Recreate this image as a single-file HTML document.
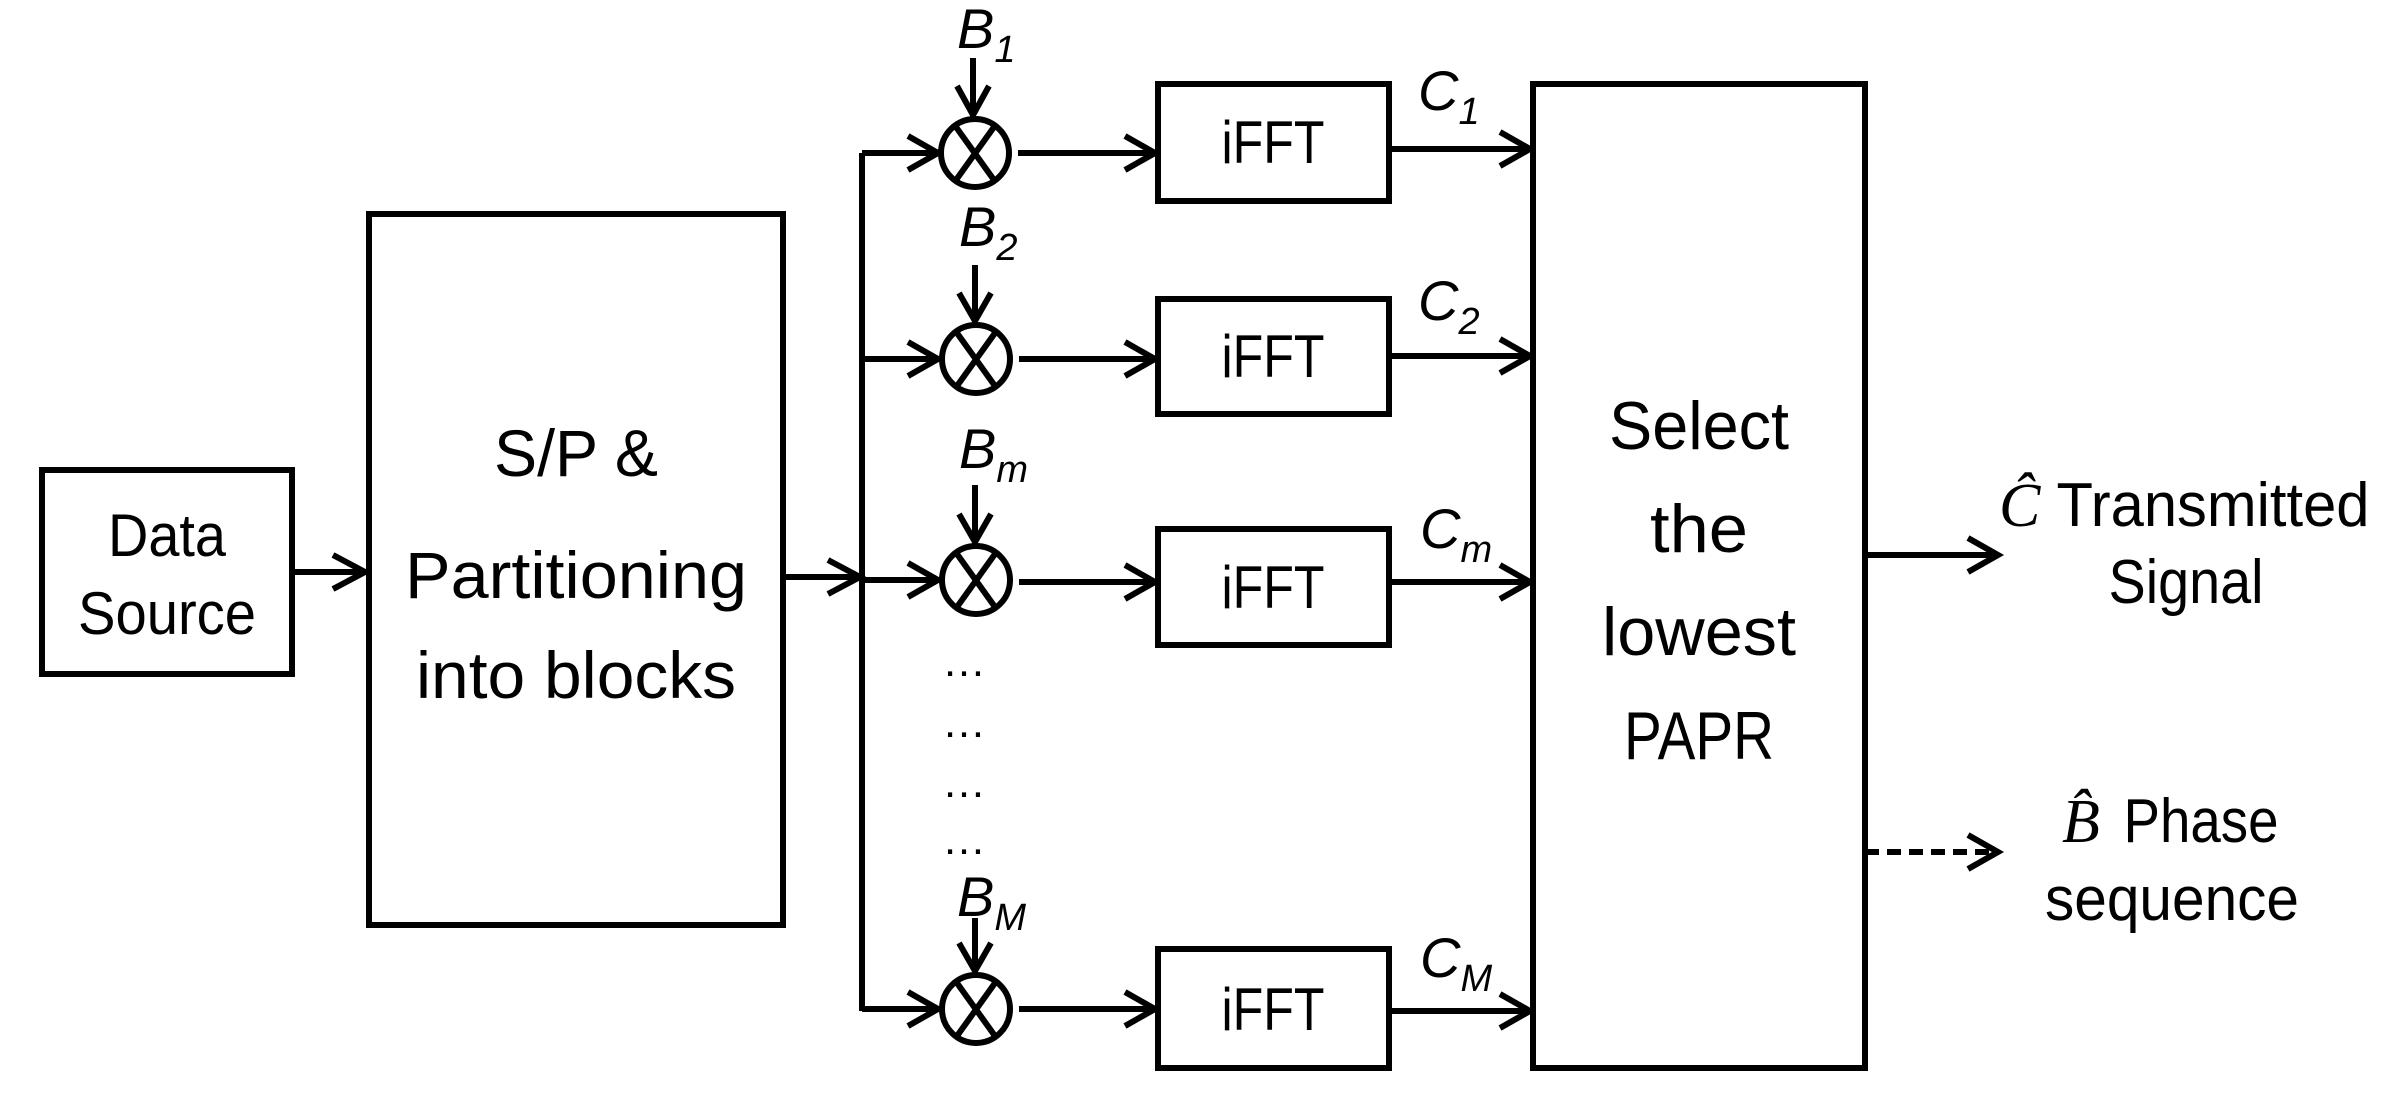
<!DOCTYPE html>
<html><head><meta charset="utf-8"><style>
html,body{margin:0;padding:0;background:#fff;}
svg{display:block;}
text{font-family:"Liberation Sans",sans-serif;fill:#000;}
.i{font-style:italic;}
</style></head><body>
<svg width="2392" height="1116" viewBox="0 0 2392 1116" xmlns="http://www.w3.org/2000/svg">
<g fill="none" stroke="#000" stroke-width="6">
<rect x="42" y="470" width="250" height="204"/>
<rect x="369" y="214" width="414" height="711"/>
<rect x="1158" y="84" width="231" height="117"/>
<rect x="1158" y="299" width="231" height="115"/>
<rect x="1158" y="529" width="231" height="116"/>
<rect x="1158" y="949" width="231" height="119"/>
<rect x="1533" y="84" width="332" height="984"/>
<line x1="292" y1="572" x2="365" y2="572"/><polyline points="333,555 365,572 333,589"/>
<line x1="783" y1="577" x2="860" y2="577"/><polyline points="828,560 860,577 828,594"/>
<line x1="862" y1="153" x2="862" y2="1011"/>
</g>
<g fill="none" stroke="#000" stroke-width="6">
<line x1="862" y1="153" x2="938" y2="153"/><polyline points="908,136 938,153 908,170"/>
<circle cx="975" cy="153" r="34"/><line x1="956" y1="127" x2="994" y2="180"/><line x1="994" y1="127" x2="956" y2="180"/>
<line x1="1018" y1="153" x2="1155" y2="153"/><polyline points="1125,136 1155,153 1125,170"/>
<line x1="973" y1="58" x2="973" y2="115"/><polyline points="957,86 973,115 989,86"/>
<line x1="1389" y1="149" x2="1530" y2="149"/><polyline points="1500,132 1530,149 1500,166"/>
<line x1="862" y1="359" x2="938" y2="359"/><polyline points="908,342 938,359 908,376"/>
<circle cx="976" cy="359" r="34"/><line x1="957" y1="333" x2="995" y2="386"/><line x1="995" y1="333" x2="957" y2="386"/>
<line x1="1019" y1="359" x2="1155" y2="359"/><polyline points="1125,342 1155,359 1125,376"/>
<line x1="975" y1="265" x2="975" y2="321"/><polyline points="959,293 975,321 991,293"/>
<line x1="1389" y1="356" x2="1530" y2="356"/><polyline points="1500,339 1530,356 1500,373"/>
<line x1="862" y1="580" x2="938" y2="580"/><polyline points="908,563 938,580 908,597"/>
<circle cx="976" cy="580" r="34"/><line x1="957" y1="554" x2="995" y2="607"/><line x1="995" y1="554" x2="957" y2="607"/>
<line x1="1019" y1="582" x2="1155" y2="582"/><polyline points="1125,565 1155,582 1125,599"/>
<line x1="975" y1="485" x2="975" y2="542"/><polyline points="959,514 975,542 991,514"/>
<line x1="1389" y1="582" x2="1530" y2="582"/><polyline points="1500,565 1530,582 1500,599"/>
<line x1="862" y1="1009" x2="938" y2="1009"/><polyline points="908,992 938,1009 908,1026"/>
<circle cx="976" cy="1009" r="34"/><line x1="957" y1="983" x2="995" y2="1036"/><line x1="995" y1="983" x2="957" y2="1036"/>
<line x1="1019" y1="1009" x2="1155" y2="1009"/><polyline points="1125,992 1155,1009 1125,1026"/>
<line x1="975" y1="918" x2="975" y2="971"/><polyline points="959,943 975,971 991,943"/>
<line x1="1389" y1="1011" x2="1530" y2="1011"/><polyline points="1500,994 1530,1011 1500,1028"/>
<line x1="1865" y1="555" x2="1998" y2="555"/><polyline points="1968,538 1998,555 1968,572"/>
<line x1="1865" y1="852" x2="1998" y2="852" stroke-dasharray="14,8"/><polyline points="1968,835 1998,852 1968,869"/>
</g>
<g font-size="44" text-anchor="middle">
<text x="964" y="676">…</text><text x="964" y="737">…</text><text x="964" y="797">…</text><text x="964" y="854">…</text>
</g>
<g text-anchor="middle">
<text x="167" y="556" font-size="60" textLength="118" lengthAdjust="spacingAndGlyphs">Data</text>
<text x="167" y="634" font-size="60" textLength="178" lengthAdjust="spacingAndGlyphs">Source</text>
<text x="576" y="476" font-size="66" textLength="164" lengthAdjust="spacingAndGlyphs">S/P &amp;</text>
<text x="576" y="598" font-size="66" textLength="342" lengthAdjust="spacingAndGlyphs">Partitioning</text>
<text x="576" y="698" font-size="66" textLength="320" lengthAdjust="spacingAndGlyphs">into blocks</text>
<text x="1273" y="163" font-size="60" textLength="103" lengthAdjust="spacingAndGlyphs">iFFT</text>
<text x="1273" y="377" font-size="60" textLength="103" lengthAdjust="spacingAndGlyphs">iFFT</text>
<text x="1273" y="608" font-size="60" textLength="103" lengthAdjust="spacingAndGlyphs">iFFT</text>
<text x="1273" y="1030" font-size="60" textLength="103" lengthAdjust="spacingAndGlyphs">iFFT</text>
<text x="1699" y="449" font-size="68" textLength="180" lengthAdjust="spacingAndGlyphs">Select</text>
<text x="1699" y="552" font-size="68" textLength="98" lengthAdjust="spacingAndGlyphs">the</text>
<text x="1699" y="655" font-size="68" textLength="194" lengthAdjust="spacingAndGlyphs">lowest</text>
<text x="1699" y="759" font-size="68" textLength="150" lengthAdjust="spacingAndGlyphs">PAPR</text>
<text x="2213" y="526" font-size="62" textLength="313" lengthAdjust="spacingAndGlyphs">Transmitted</text>
<text x="2186" y="603" font-size="62" textLength="155" lengthAdjust="spacingAndGlyphs">Signal</text>
<text x="2201" y="842" font-size="62" textLength="155" lengthAdjust="spacingAndGlyphs">Phase</text>
<text x="2172" y="920" font-size="62" textLength="254" lengthAdjust="spacingAndGlyphs">sequence</text>
</g>
<g font-size="62" style="font-family:'Liberation Serif',serif;font-style:italic">
<text x="1999" y="526" style="font-family:'Liberation Serif',serif">Ĉ</text>
<text x="2062" y="842" style="font-family:'Liberation Serif',serif">B̂</text>
</g>
<g font-size="56">
<text x="957" y="48" class="i">B<tspan font-size="38" dy="14">1</tspan></text>
<text x="959" y="246" class="i">B<tspan font-size="38" dy="14">2</tspan></text>
<text x="959" y="468" class="i">B<tspan font-size="38" dy="14">m</tspan></text>
<text x="957" y="916" class="i">B<tspan font-size="38" dy="14">M</tspan></text>
<text x="1418" y="110" class="i">C<tspan font-size="38" dy="14">1</tspan></text>
<text x="1418" y="320" class="i">C<tspan font-size="38" dy="14">2</tspan></text>
<text x="1420" y="548" class="i">C<tspan font-size="38" dy="14">m</tspan></text>
<text x="1420" y="977" class="i">C<tspan font-size="38" dy="14">M</tspan></text>
</g>
</svg>
</body></html>
